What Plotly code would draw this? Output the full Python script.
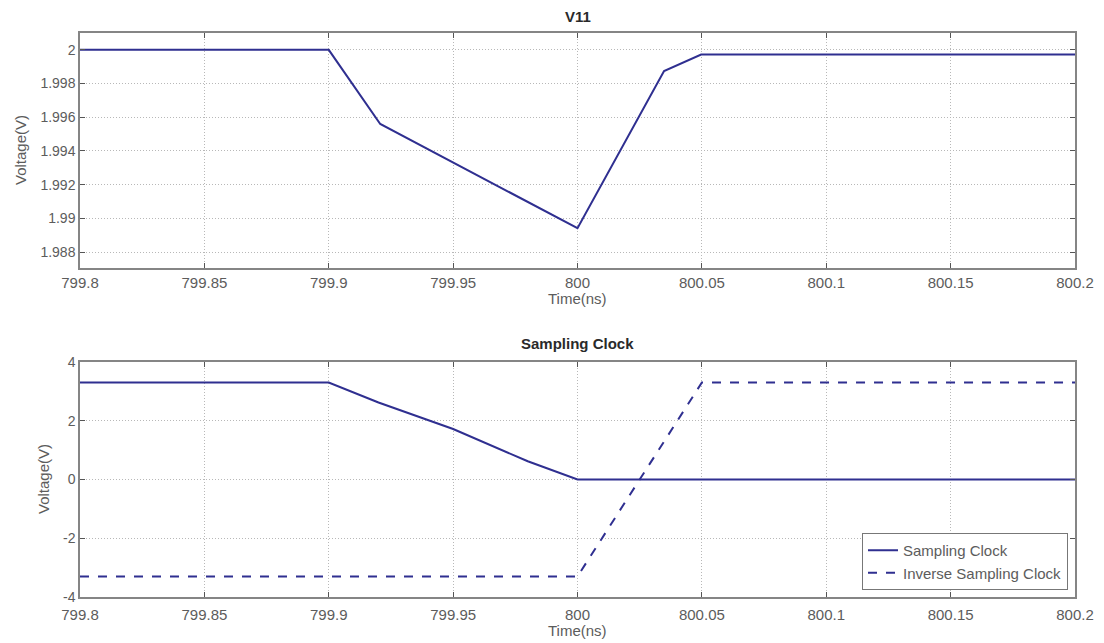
import plotly.graph_objects as go

# V11 node voltage around the sampling edge
t_v11 = [799.8, 799.9, 799.9207, 800.0, 800.0348, 800.0497, 800.2]
v11 = [2.0, 2.0, 1.9956, 1.98941, 1.99874, 1.99972, 1.99972]

# Sampling clock and its inverse
t_clk = [799.8, 799.9, 799.92, 799.95, 799.98, 800.0, 800.2]
clk = [3.3, 3.3, 2.62, 1.72, 0.62, 0.0, 0.0]
t_inv = [799.8, 800.0, 800.05, 800.2]
inv_clk = [-3.3, -3.3, 3.3, 3.3]

x_ticks = [799.8, 799.85, 799.9, 799.95, 800.0, 800.05, 800.1, 800.15, 800.2]
x_tick_text = ["799.8", "799.85", "799.9", "799.95", "800", "800.05", "800.1", "800.15", "800.2"]
y1_ticks = [1.988, 1.99, 1.992, 1.994, 1.996, 1.998, 2.0]
y1_tick_text = ["1.988", "1.99", "1.992", "1.994", "1.996", "1.998", "2"]
y2_ticks = [-4, -2, 0, 2, 4]
y2_tick_text = ["-4", "-2", "0", "2", "4"]

W, H = 1104, 643
LINE = "#2F2F90"
FONT = "Liberation Sans, Arial, sans-serif"
LABEL_GRAY = "#5c5c5c"

def px_x(p):
    return p / W

def px_y(p):
    return 1 - p / H

fig = go.Figure()
fig.add_trace(go.Scatter(x=t_v11, y=v11, mode="lines", line=dict(color=LINE, width=2),
                         showlegend=False, xaxis="x", yaxis="y"))
fig.add_trace(go.Scatter(x=t_clk, y=clk, mode="lines", name="Sampling Clock",
                         line=dict(color=LINE, width=2), xaxis="x2", yaxis="y2"))
fig.add_trace(go.Scatter(x=t_inv, y=inv_clk, mode="lines", name="Inverse Sampling Clock",
                         line=dict(color=LINE, width=2, dash="dash"), xaxis="x2", yaxis="y2"))

axis_common = dict(
    showline=True, linecolor="#858585", linewidth=1.5, mirror="allticks",
    ticks="inside", ticklen=5, tickcolor="#555555", tickwidth=1,
    showgrid=True, gridcolor="#b8b8b8", griddash="1px,2px", gridwidth=1,
    zeroline=False, automargin=False,
)
x_font = dict(family=FONT, size=15, color=LABEL_GRAY)
y_font = dict(family=FONT, size=14, color=LABEL_GRAY)

xdom = [px_x(80), px_x(1075)]
xmid = 0.5 * (xdom[0] + xdom[1])

def label(text, x, y, angle=0, size=15, color=LABEL_GRAY):
    return dict(text=text, x=x, y=y, xref="paper", yref="paper", showarrow=False,
                textangle=angle, xanchor="center", yanchor="middle",
                font=dict(family=FONT, size=size, color=color))

fig.update_layout(
    width=W, height=H,
    margin=dict(l=0, r=0, t=0, b=0),
    paper_bgcolor="white", plot_bgcolor="white",
    font=dict(family=FONT, color="#444444"),
    xaxis=dict(domain=xdom, anchor="y", range=[799.8, 800.2], tickfont=x_font,
               tickvals=x_ticks, ticktext=x_tick_text, **axis_common),
    yaxis=dict(domain=[px_y(268), px_y(33)], anchor="x", range=[1.98705, 2.001], tickfont=y_font,
               tickvals=y1_ticks, ticktext=y1_tick_text, **axis_common),
    xaxis2=dict(domain=xdom, anchor="y2", range=[799.8, 800.2], tickfont=x_font,
                ticklabelstandoff=3,
                tickvals=x_ticks, ticktext=x_tick_text, **axis_common),
    yaxis2=dict(domain=[px_y(597), px_y(362)], anchor="x2", range=[-4, 4], tickfont=y_font,
                tickvals=y2_ticks, ticktext=y2_tick_text, **axis_common),
    legend=dict(x=px_x(1068), y=px_y(590), xanchor="right", yanchor="bottom",
                bgcolor="white", bordercolor="#777777", borderwidth=1,
                font=dict(family=FONT, size=15, color=LABEL_GRAY),
                tracegroupgap=0),
    annotations=[
        label("<b>V11</b>", xmid, px_y(16), size=15, color="#2a2a2a"),
        label("<b>Sampling Clock</b>", xmid, px_y(343), size=15, color="#2a2a2a"),
        label("Time(ns)", xmid, px_y(298)),
        label("Time(ns)", xmid, px_y(630)),
        label("Voltage(V)", px_x(20), px_y(150), angle=-90),
        label("Voltage(V)", px_x(43), px_y(479), angle=-90),
    ],
)

fig.write_html("out.html")
